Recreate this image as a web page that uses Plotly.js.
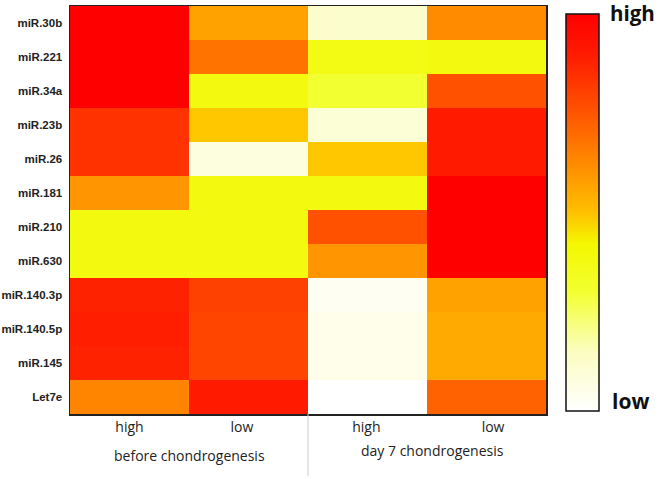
<!DOCTYPE html>
<html>
<head>
<meta charset="utf-8">
<script src="https://cdn.plot.ly/plotly-3.0.1.min.js"></script>
<style>html,body{margin:0;padding:0;background:#fff;}#chart{width:660px;height:479px;}</style>
</head>
<body>
<div id="chart"></div>
<script>
const mirnas = ["miR.30b","miR.221","miR.34a","miR.23b","miR.26","miR.181","miR.210","miR.630","miR.140.3p","miR.140.5p","miR.145","Let7e"];
const columnLabels = ["high","low","high","low"];
const groupLabels = ["before chondrogenesis","day 7 chondrogenesis"];
const beforeHigh = [1.0,1.0,1.0,0.84,0.84,0.6,0.38,0.38,0.88,0.89,0.88,0.64];
const beforeLow  = [0.57,0.68,0.38,0.49,0.08,0.38,0.38,0.38,0.8,0.79,0.79,0.9];
const day7High   = [0.12,0.37,0.3,0.1,0.49,0.38,0.76,0.6,0.03,0.05,0.05,0.0];
const day7Low    = [0.62,0.38,0.76,0.9,0.9,1.0,1.0,1.0,0.57,0.55,0.55,0.72];

const cols = [beforeHigh, beforeLow, day7High, day7Low];
const z = mirnas.map((_, i) => cols.map(c => c[i]));

const colorscale = [
  [0, '#ffffff'], [0.15, '#fbfdc0'], [0.3, '#f2ff30'], [0.42, '#f4f800'],
  [0.5, '#ffc000'], [0.6, '#ff9500'], [0.75, '#ff5500'], [0.9, '#ff1a00'], [1, '#ff0000']
];

const PW = 476, PH = 408, L = 70, T = 6;
const px = v => (v - L) / PW;
const py = v => (T + PH - v) / PH;

const trace = {
  type: 'heatmap',
  z: z,
  x: [0,1,2,3],
  y: mirnas,
  zmin: 0, zmax: 1,
  colorscale: colorscale,
  hoverinfo: 'skip',
  colorbar: {
    thickness: 33, thicknessmode: 'pixels',
    len: 397, lenmode: 'pixels',
    x: px(566), xanchor: 'left',
    y: py(14), yanchor: 'top',
    xpad: 0, ypad: 0,
    outlinewidth: 1.5, outlinecolor: '#111',
    ticks: '', showticklabels: false
  }
};

const layout = {
  width: 660, height: 479,
  margin: {l: 70, r: 114, t: 6, b: 65},
  paper_bgcolor: '#fff', plot_bgcolor: '#fff',
  font: {family: 'Liberation Sans, Arial, sans-serif', color: '#111'},
  xaxis: {
    tickvals: [0.0, -0.055 + 1, 1.99, 3.055], ticktext: columnLabels,
    showline: true, mirror: true, linecolor: '#222', linewidth: 1.5,
    ticks: '', showgrid: false, zeroline: false,
    tickfont: {family: 'Open Sans, Lato, sans-serif', size: 14, color: '#222'},
    ticklabelstandoff: 0,
    range: [-0.5, 3.5], fixedrange: true
  },
  yaxis: {
    autorange: 'reversed', type: 'category',
    showline: true, mirror: true, linecolor: '#222', linewidth: 1.5,
    ticks: '', showgrid: false, zeroline: false,
    tickfont: {family: 'Liberation Sans, Arial, sans-serif', size: 11.5, color: '#222', weight: 'bold'},
    ticklabelstandoff: 4
  },
  shapes: [
    {type: 'line', xref: 'x', yref: 'paper', x0: 1.5, x1: 1.5, y0: 0, y1: py(476),
     line: {color: '#cccccc', width: 1}}
  ],
  annotations: [
    {xref: 'x', yref: 'paper', x: 0.5, y: py(455), yanchor: 'middle', text: groupLabels[0], showarrow: false,
     font: {family: 'Open Sans, Lato, sans-serif', size: 14, color: '#222'}},
    {xref: 'x', yref: 'paper', x: 2.55, y: py(451), yanchor: 'middle', text: groupLabels[1], showarrow: false,
     font: {family: 'Open Sans, Lato, sans-serif', size: 14, color: '#222'}},
    {xref: 'paper', yref: 'paper', x: px(608), xanchor: 'left', y: py(13), yanchor: 'middle', text: 'high', showarrow: false,
     font: {family: 'Open Sans, Lato, sans-serif', size: 20.5, color: '#111', weight: 'bold'}},
    {xref: 'paper', yref: 'paper', x: px(610), xanchor: 'left', y: py(401), yanchor: 'middle', text: 'low', showarrow: false,
     font: {family: 'Open Sans, Lato, sans-serif', size: 21, color: '#111', weight: 'bold'}}
  ]
};

Plotly.newPlot('chart', [trace], layout, {displayModeBar: false, staticPlot: true});
</script>
</body>
</html>
